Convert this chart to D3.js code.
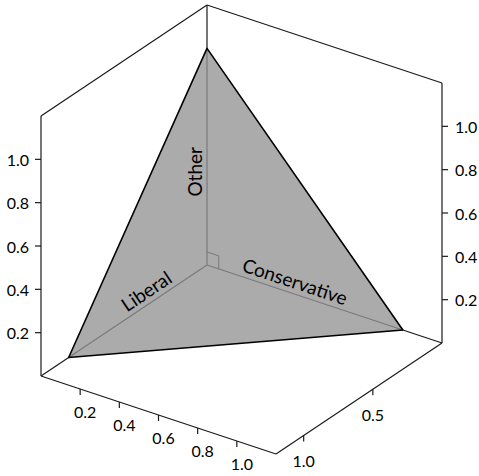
<!DOCTYPE html>
<meta charset="utf-8">
<script src="https://d3js.org/d3.v7.min.js"></script>
<style>
  body { margin: 0; background: #fff; }
  text { font-family: Lato, "Open Sans", sans-serif; fill: #000; }
</style>
<body>
<script>

// data
var axisMax = 1.2;
var axisNames = ["Liberal", "Conservative", "Other"];
var otherTicks = [0.2, 0.4, 0.6, 0.8, 1.0];
var consTicks = [0.2, 0.4, 0.6, 0.8, 1.0];
var libTicks = [0.5, 1.0];
var vertLib = [1, 0, 0];
var vertCon = [0, 1, 0];
var vertOth = [0, 0, 1];

var width = 479, height = 476;
var origin = [207, 265];

// oblique projection of the unit box, one scale per screen component
var libX = d3.scaleLinear().domain([0, axisMax]).range([0, -166]);
var libY = d3.scaleLinear().domain([0, axisMax]).range([0, 111]);
var conX = d3.scaleLinear().domain([0, axisMax]).range([0, 235]);
var conY = d3.scaleLinear().domain([0, axisMax]).range([0, 78]);
var othY = d3.scaleLinear().domain([0, axisMax]).range([0, -260]);

function proj(l, c, o) {
  return [origin[0] + libX(l) + conX(c), origin[1] + libY(l) + conY(c) + othY(o)];
}

var svg = d3.select("body").append("svg")
    .attr("width", width)
    .attr("height", height);

var line = d3.line();
var M = axisMax;
var fmt = d3.format(".1f");

// box edges (back ones get covered by the triangle)
var edges = [
  [[0,0,0],[M,0,0]], [[0,0,0],[0,M,0]], [[0,0,0],[0,0,M]],
  [[0,0,M],[M,0,M]], [[0,0,M],[0,M,M]],
  [[M,0,M],[M,0,0]], [[0,M,M],[0,M,0]],
  [[M,0,0],[M,M,0]], [[0,M,0],[M,M,0]]
];
svg.append("g").selectAll("path").data(edges).enter().append("path")
    .attr("d", function(d) { return line(d.map(function(p) { return proj(p[0], p[1], p[2]); })); })
    .attr("fill", "none").attr("stroke", "#1a1a1a").attr("stroke-width", 1.2);

// simplex
var tri = [vertLib, vertCon, vertOth].map(function(p) { return proj(p[0], p[1], p[2]); });
svg.append("path")
    .attr("d", line(tri) + "Z")
    .attr("fill", "#ababab").attr("stroke", "none");

// axes seen through the plane
var inner = [vertLib, vertCon, vertOth];
svg.append("g").selectAll("path").data(inner).enter().append("path")
    .attr("d", function(d) { return line([proj(0,0,0), proj(d[0], d[1], d[2])]); })
    .attr("stroke", "#7a7a7a").attr("stroke-width", 1.2).attr("fill", "none");

// right angle marker
var s = 0.06;
svg.append("path")
    .attr("d", line([proj(0,0,s), proj(0,s,s), proj(0,s,0)]))
    .attr("stroke", "#7a7a7a").attr("stroke-width", 1).attr("fill", "none");

svg.append("path")
    .attr("d", line(tri) + "Z")
    .attr("fill", "none").attr("stroke", "#000").attr("stroke-width", 1.6)
    .attr("stroke-linejoin", "round");

// vertical ticks, left and right
var side = svg.append("g");
otherTicks.forEach(function(t) {
  var p = proj(M, 0, t);
  side.append("line").attr("x1", p[0]).attr("y1", p[1]).attr("x2", p[0] - 6).attr("y2", p[1])
      .attr("stroke", "#1a1a1a").attr("stroke-width", 1.2);
  side.append("text").attr("x", p[0] - 12).attr("y", p[1] + 1).attr("dy", "0.35em")
      .attr("text-anchor", "end").attr("font-size", 16).text(fmt(t));
  var q = proj(0, M, t);
  side.append("line").attr("x1", q[0]).attr("y1", q[1]).attr("x2", q[0] + 6).attr("y2", q[1])
      .attr("stroke", "#1a1a1a").attr("stroke-width", 1.2);
  side.append("text").attr("x", q[0] + 13).attr("y", q[1] + 1).attr("dy", "0.35em")
      .attr("text-anchor", "start").attr("font-size", 16).text(fmt(t));
});

// bottom ticks
var bottom = svg.append("g");
consTicks.forEach(function(t) {
  var p = proj(M, t, 0);
  bottom.append("line").attr("x1", p[0]).attr("y1", p[1]).attr("x2", p[0]).attr("y2", p[1] + 6)
      .attr("stroke", "#1a1a1a").attr("stroke-width", 1.2);
  bottom.append("text").attr("x", p[0] + 5).attr("y", p[1] + 23).attr("dy", "0.35em")
      .attr("text-anchor", "middle").attr("font-size", 16).text(fmt(t));
});
libTicks.forEach(function(t) {
  var p = proj(t, M, 0);
  bottom.append("line").attr("x1", p[0]).attr("y1", p[1]).attr("x2", p[0]).attr("y2", p[1] + 6)
      .attr("stroke", "#1a1a1a").attr("stroke-width", 1.2);
  bottom.append("text").attr("x", p[0]).attr("y", p[1] + 26).attr("dy", "0.35em")
      .attr("text-anchor", "middle").attr("font-size", 16).text(fmt(t));
});

// axis names on the plane
function angle(a, b) { return Math.atan2(b[1] - a[1], b[0] - a[0]) * 180 / Math.PI; }
var namePos = [
  {p: proj(0.39, 0, 0), rot: angle(proj(1,0,0), proj(0,0,0))},
  {p: proj(0, 0.43, 0), rot: angle(proj(0,0,0), proj(0,1,0))},
  {p: proj(0, 0, 0.43), rot: -90}
];
svg.append("g").selectAll("text").data(axisNames).enter().append("text")
    .attr("transform", function(d, i) {
      return "translate(" + namePos[i].p[0] + "," + namePos[i].p[1] + ") rotate(" + namePos[i].rot + ")";
    })
    .attr("y", -5)
    .attr("text-anchor", "middle")
    .attr("font-size", 19)
    .text(function(d) { return d; });

</script>
</body>
</html>
